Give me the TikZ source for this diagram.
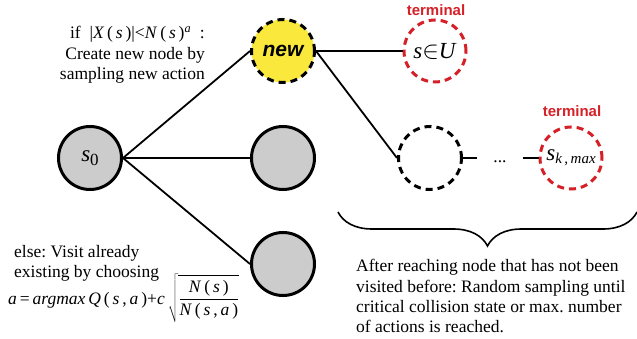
\documentclass[tikz,border=0pt]{standalone}
\usepackage{fontspec}
\setmainfont{Liberation Serif}
\newfontfamily\sansfnt{Liberation Sans}
\usetikzlibrary{decorations.pathreplacing}
\definecolor{termred}{RGB}{214,32,39}
\definecolor{newyellow}{RGB}{250,232,60}
\definecolor{nodegray}{RGB}{204,204,204}
\newcommand\myit[1]{\textit{#1}}
\frenchspacing
\begin{document}
\begin{tikzpicture}[x=1pt,y=-1pt,
  circbase/.style={circle, minimum size=63pt, inner sep=0pt, line width=3pt},
  state/.style={circbase, draw=black, fill=nodegray},
  newstate/.style={circbase, draw=black, fill=newyellow, dash pattern=on 7pt off 5pt},
  openstate/.style={circbase, draw=black, dash pattern=on 7pt off 5pt},
  termstate/.style={circbase, minimum size=62pt, draw=termred, dash pattern=on 7pt off 5pt},
  edge/.style={line width=1.8pt},
  txt/.style={font=\fontsize{17.5}{20.5}\selectfont\frenchspacing, inner sep=0pt},
  termlbl/.style={text=termred, font=\sansfnt\bfseries\fontsize{15}{18}\selectfont, inner sep=0pt, anchor=base},
  mlbl/.style={font=\fontsize{23}{26}\selectfont}
]
\useasboundingbox (0,0) rectangle (637,339);

% nodes
\node[state, mlbl] (s0) at (90,158) {\myit{s}\raisebox{-0.4ex}{\fontsize{17}{18}\selectfont 0}};
\node[newstate] (new) at (283,51) {\sansfnt\bfseries\itshape\fontsize{21}{24}\selectfont new};
\node[state] (mid) at (283,158) {};
\node[state] (bot) at (283,264) {};
\node[termstate, mlbl] (U) at (435,51) {\myit{s}$\in$\myit{U}};
\node[openstate] (open) at (430,158) {};
\node[termstate, mlbl] (smax) at (571,158) {\myit{s}\raisebox{-0.3ex}{\fontsize{15}{18}\selectfont\itshape k\,,\,max}};
\node[txt, anchor=base, minimum width=45pt] (dots) at (500,163) {...};

\node[termlbl] (t1) at (436,16) {terminal};
\node[termlbl] (t2) at (572,117) {terminal};

% connectors
\draw[edge] (s0.east) -- (new.west);
\draw[edge] (s0.east) -- (mid.west);
\draw[edge] (s0.east) -- (bot.west);
\draw[edge] (new.east) -- (U.west);
\draw[edge] (new.east) -- (open.west);
\draw[edge] (open.east) -- (open.east -| dots.west);
\draw[edge] (smax.west -| dots.east) -- (smax.west);

% brace
\coordinate (bl) at (338,212);
\coordinate (br) at (637,212);
\draw[line width=1.6pt, decorate, decoration={brace, mirror, amplitude=34pt}] (bl) -- (br);

% texts top left
\node[txt, anchor=base east] (if1) at (205,39) {if\ \ |\myit{X}\,(\,\myit{s}\,)|<\myit{N}\,(\,\myit{s}\,)\textsuperscript{\myit{a}}\ \ :};
\node[txt, anchor=base east] (if2) at (205,60) {Create new node by};
\node[txt, anchor=base east] (if3) at (205,80) {sampling new action};

% texts bottom left
\node[txt, anchor=base west] (el1) at (14,257) {else: Visit already};
\node[txt, anchor=base west] (el2) at (14,277) {existing by choosing};
\node[txt, anchor=base west] (el3) at (8,304) {\myit{a}\,=\,\myit{argmax}\,\myit{Q}\,(\,\myit{s}\,,\,\myit{a}\,)+\myit{c}\,$\displaystyle\sqrt{\frac{\hbox{\myit{N}\,(\,\myit{s}\,)}}{\hbox{\myit{N}\,(\,\myit{s}\,,\,\myit{a}\,)}}}$};

% texts bottom right
\node[txt, anchor=base west] (r1) at (356,271) {After reaching node that has not been};
\node[txt, anchor=base west] (r2) at (356,292) {visited before: Random sampling until};
\node[txt, anchor=base west] (r3) at (356,312) {critical collision state or max. number};
\node[txt, anchor=base west] (r4) at (356,332) {of actions is reached.};
\end{tikzpicture}
\end{document}
